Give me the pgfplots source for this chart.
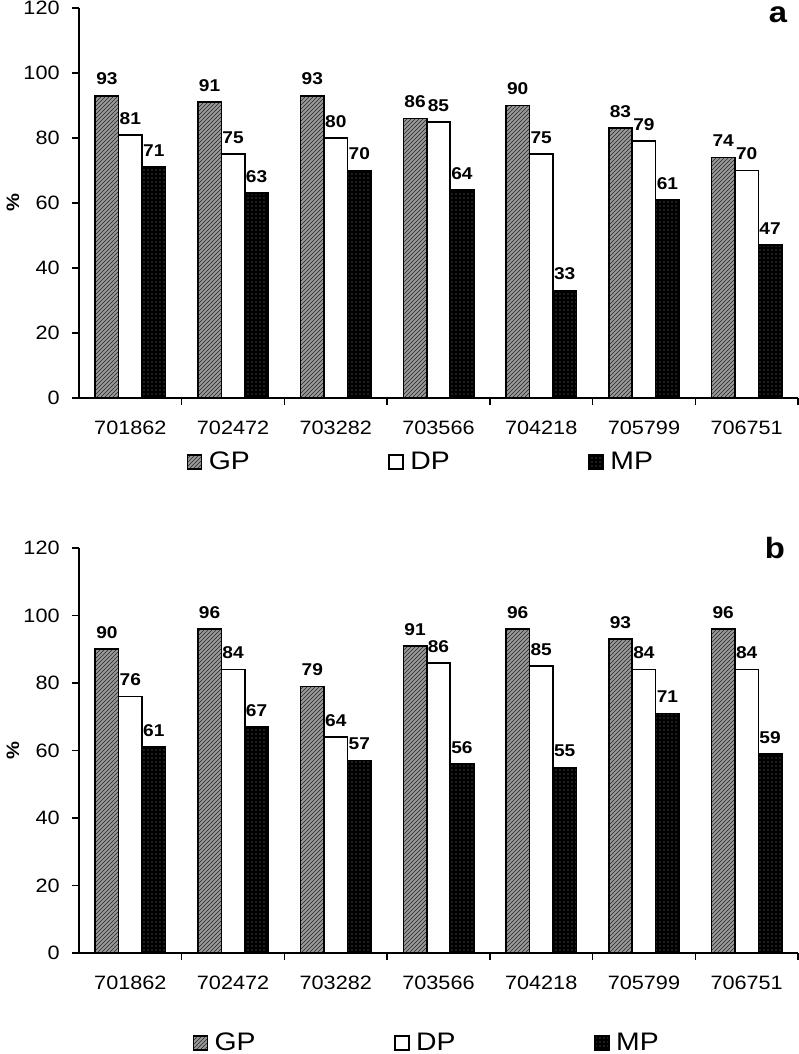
\documentclass[border=0pt]{standalone}
\usepackage{fontspec}
\setmainfont[FakeStretch=1.12]{Liberation Sans}
\usepackage{pgfplots}
\pgfplotsset{compat=1.18}
\usetikzlibrary{patterns}

\pgfplotsset{
  mybars/.style={
    scale only axis,
    width=539.25pt,
    ybar=0pt, bar width=17.6pt,
    xmin=-0.5, xmax=6.5, ymin=0, ymax=120,
    ytick={0,20,...,120},
    xtick={0.5,1.5,...,6.5},
    xticklabels={},
    extra x ticks={0,1,2,3,4,5,6},
    extra x tick labels={701862,702472,703282,703566,704218,705799,706751},
    extra x tick style={major tick length=0pt, xticklabel style={yshift=-14pt}},
    axis x line*=bottom, axis y line*=left,
    axis line style={line width=1.1pt, -},
    tick align=outside, major tick length=5pt,
    every tick/.style={black, line width=1.1pt},
    /pgf/number format/assume math mode=true,
    ticklabel style={font=\fontsize{14.5}{16}\selectfont},
    yticklabel style={xshift=-6pt},
    ylabel={\%},
    ylabel style={font=\bfseries\fontsize{13.5}{15}\selectfont, at={(axis description cs:-0.092,0.5)}, anchor=center},
    nodes near coords,
    every node near coord/.append style={font=\bfseries\fontsize{12.8}{14}\selectfont, yshift=4pt, black},
    legend columns=3,
    legend style={draw=none, font=\fontsize{19}{21}\selectfont,
      /tikz/every odd column/.append style={column sep=3pt},
      /tikz/every even column/.append style={column sep=102pt}},
    legend image code/.code={\draw[#1, line width=1pt] (0pt,-5.25pt) rectangle (10.5pt,5.25pt);},
    clip=false,
  },
  gpstyle/.style={draw=black, line width=1.2pt, fill=black!40, postaction={pattern=north east lines, pattern color=black!85}},
  dpstyle/.style={draw=black, line width=1.2pt, fill=white},
  mpstyle/.style={draw=black, line width=1.2pt, fill=black, postaction={pattern=dots, pattern color=black!50}},
}

\begin{document}
\begin{tikzpicture}
\path[use as bounding box] (0pt,0pt) rectangle (599.25pt,-790.5pt);

\begin{axis}[mybars, height=292.5pt, at={(59.25pt,-298.5pt)}, anchor=south west,
  legend style={at={(axis description cs:0.476,-0.164)}, anchor=center}]
\addplot[gpstyle] coordinates {(0,93) (1,91) (2,93) (3,86) (4,90) (5,83) (6,74)};
\addplot[dpstyle] coordinates {(0,81) (1,75) (2,80) (3,85) (4,75) (5,79) (6,70)};
\addplot[mpstyle] coordinates {(0,71) (1,63) (2,70) (3,64) (4,33) (5,61) (6,47)};
\legend{GP,DP,MP}
\end{axis}

\begin{axis}[mybars, height=303.75pt, at={(59.25pt,-714.75pt)}, anchor=south west,
  legend style={at={(axis description cs:0.484,-0.222)}, anchor=center}]
\addplot[gpstyle] coordinates {(0,90) (1,96) (2,79) (3,91) (4,96) (5,93) (6,96)};
\addplot[dpstyle] coordinates {(0,76) (1,84) (2,64) (3,86) (4,85) (5,84) (6,84)};
\addplot[mpstyle] coordinates {(0,61) (1,67) (2,57) (3,56) (4,55) (5,71) (6,59)};
\legend{GP,DP,MP}
\end{axis}

\node[font=\bfseries\fontsize{22}{24}\selectfont] at (583.5pt,-11pt) {a};
\node[font=\bfseries\fontsize{22}{24}\selectfont] at (581.25pt,-411pt) {b};
\end{tikzpicture}
\end{document}
